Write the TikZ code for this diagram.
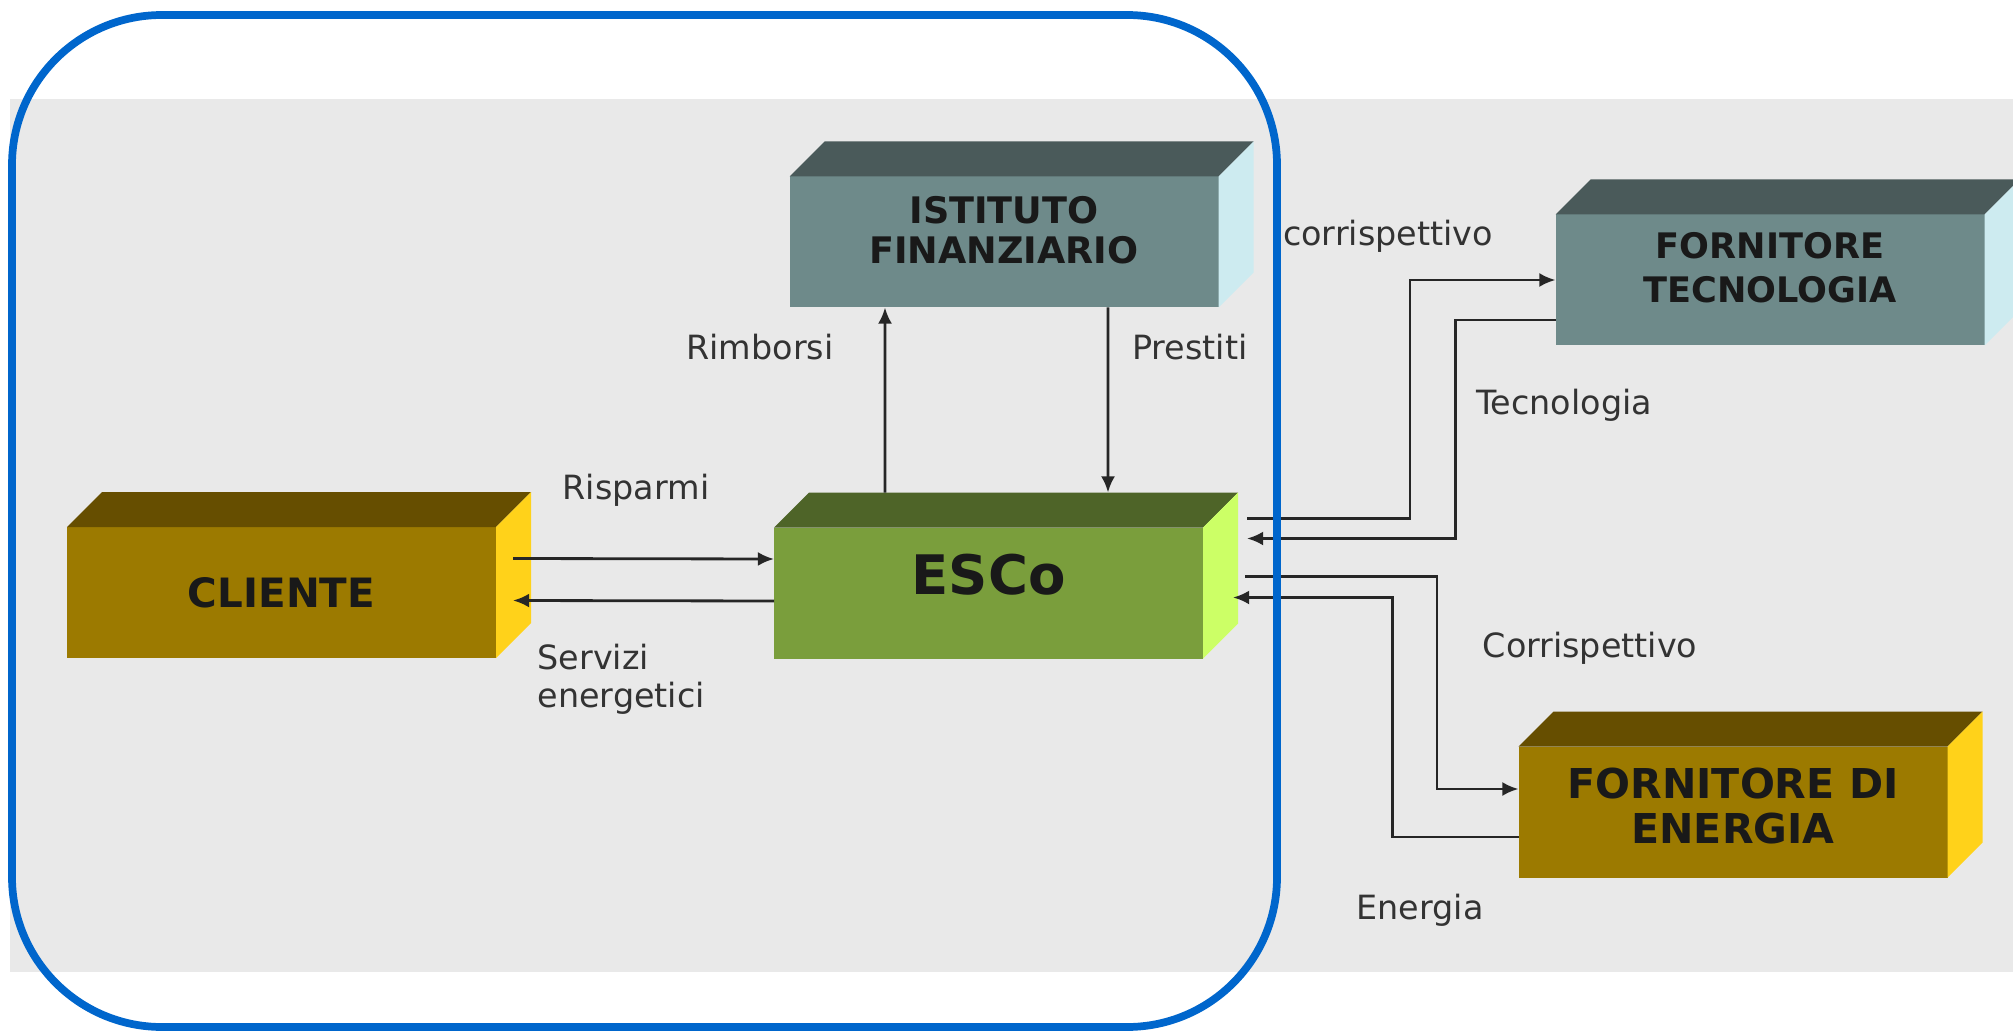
\documentclass[tikz,border=0pt]{standalone}
\usepackage{fontspec}
\setmainfont{DejaVu Sans}
\usetikzlibrary{arrows.meta}

\definecolor{oro}{HTML}{9C7A00}
\definecolor{oroscuro}{HTML}{664E00}
\definecolor{orochiaro}{HTML}{FFD21A}
\definecolor{verde}{HTML}{7A9E3C}
\definecolor{verdescuro}{HTML}{4E6428}
\definecolor{verdechiaro}{HTML}{CCFF66}
\definecolor{petrolio}{HTML}{6E8A8A}
\definecolor{petrolioscuro}{HTML}{4A5A5A}
\definecolor{petroliochiaro}{HTML}{CDEBF0}
\definecolor{sfondo}{HTML}{E9E9E9}
\definecolor{cornice}{HTML}{0066CC}

\newcommand{\prof}{0.35}
% blocco: faccia frontale + tetto + fianco destro
\newcommand{\blocco}[5]{%
  \node[faccia, fill=#3] (#1) at (#2) {};
  \fill[#4] (#1.north west) -- ++(\prof,\prof) -- ([shift={(\prof,\prof)}]#1.north east) -- (#1.north east) -- cycle;
  \fill[#5] (#1.north east) -- ++(\prof,\prof) -- ([shift={(\prof,\prof)}]#1.south east) -- (#1.south east) -- cycle;
}

\begin{document}
\begin{tikzpicture}[faccia/.style={minimum width=4.29cm, minimum height=1.31cm, inner sep=0pt, outer sep=0pt},
    titolo/.style={align=center, inner sep=0pt, text=black!90},
    etichetta/.style={font=\fontsize{9.5}{11}\selectfont, inner sep=0pt, text=black!80},
    freccia/.style={-{Latex[length=4.6pt,width=4pt]}, line width=0.8pt, black!85}]
  \useasboundingbox (0,0) rectangle (20.13,10.33);
  \fill[sfondo] (0.10,0.61) rectangle (20.13,9.34);

  \blocco{cliente}{2.815,4.405}{oro}{oroscuro}{orochiaro}
  \blocco{esco}{9.885,4.40}{verde}{verdescuro}{verdechiaro}
  \blocco{istituto}{10.04,7.91}{petrolio}{petrolioscuro}{petroliochiaro}
  \blocco{tecno}{17.70,7.53}{petrolio}{petrolioscuro}{petroliochiaro}
  \blocco{energia}{17.33,2.21}{oro}{oroscuro}{orochiaro}

  \node[titolo, font=\bfseries\fontsize{11.5}{13}\selectfont] (cliente-t) at (cliente) {CLIENTE};
  \node[titolo, font=\bfseries\fontsize{15.5}{17}\selectfont] (esco-t) at ([yshift=1.8mm]esco.center) {ESCo};
  \node[titolo, font=\bfseries\fontsize{10.4}{11.4}\selectfont] (istituto-t) at ([yshift=1.2mm]istituto.center) {ISTITUTO\\FINANZIARIO};
  \node[titolo, font=\bfseries\fontsize{10}{12.5}\selectfont] (tecno-t) at ([yshift=1.2mm]tecno.center) {FORNITORE\\TECNOLOGIA};
  \node[titolo, font=\bfseries\fontsize{11.7}{13}\selectfont] (energia-t) at ([yshift=0.6mm]energia.center) {FORNITORE DI\\ENERGIA};

  % punti di attacco sul fianco della ESCo
  \coordinate (e1) at ([shift={(0.44,1.40)}]esco.south east);
  \coordinate (e2) at ([shift={(0.44,1.20)}]esco.south east);
  \coordinate (e3) at ([shift={(0.42,0.82)}]esco.south east);
  \coordinate (e4) at ([shift={(0.30,0.61)}]esco.south east);

  \draw[freccia] ([shift={(0.17,0.34)}]cliente.east) -- ([yshift=3.4mm]esco.west);
  \draw[freccia] ([yshift=-0.8mm]esco.west) -- ([shift={(0.17,-0.08)}]cliente.east);
  \draw[freccia] ([shift={(-1.035,\prof)}]esco.north) -- ([xshift=-1.19cm]istituto.south);
  \draw[freccia] ([xshift=1.04cm]istituto.south) -- ([shift={(1.195,\prof)}]esco.north);
  \draw[freccia] (e1) -- ++(1.63,0) |- (tecno.west);
  \draw[freccia] ([yshift=-4mm]tecno.west) -- ++(-1.0,0) |- (e2);
  \draw[freccia] (e3) -- ++(1.92,0) |- ([yshift=2.3mm]energia.west);
  \draw[freccia] ([yshift=-2.5mm]energia.west) -- ++(-1.26,0) |- (e4);

  \node[etichetta] (l-risp) at (6.36,5.43) {Risparmi};
  \node[etichetta, anchor=north west, align=left] (l-serv) at (5.37,3.90) {Servizi\\energetici};
  \node[etichetta] (l-rimb) at (7.60,6.86) {Rimborsi};
  \node[etichetta] (l-prest) at (11.90,6.86) {Prestiti};
  \node[etichetta] (l-corr1) at (13.88,7.97) {corrispettivo};
  \node[etichetta] (l-tecn) at (15.64,6.28) {Tecnologia};
  \node[etichetta] (l-corr2) at (15.90,3.85) {Corrispettivo};
  \node[etichetta] (l-ener) at (14.20,1.23) {Energia};

  \draw[cornice, line width=2.2pt, rounded corners=1.5cm] (0.12,0.06) rectangle (12.77,10.18);
\end{tikzpicture}
\end{document}
